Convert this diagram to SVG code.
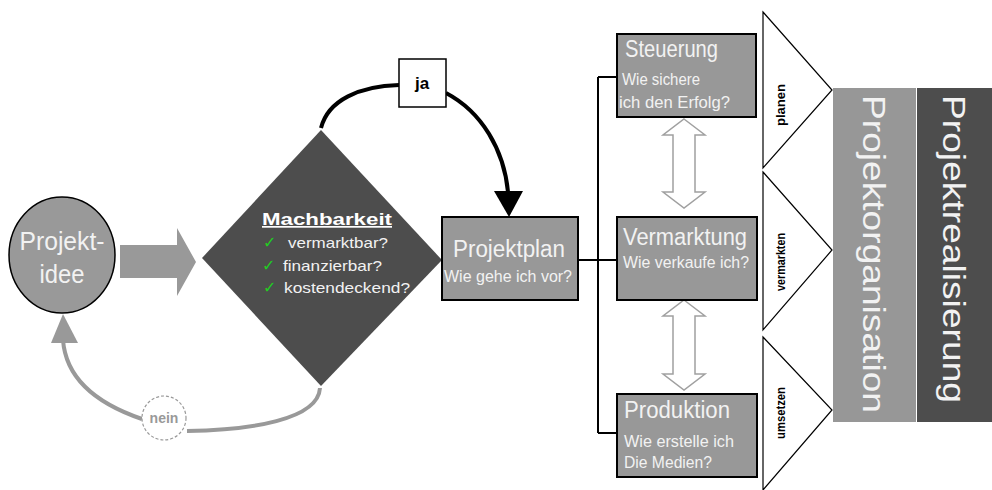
<svg xmlns="http://www.w3.org/2000/svg" width="992" height="490" viewBox="0 0 992 490">
<defs>
<style>
text{font-family:"Liberation Sans",Arial,sans-serif}
.box{fill:#989898;stroke:#000;stroke-width:2}
.lt{fill:#f2f2f2}
.big{font-size:23px}
.sm{font-size:16px}
.con{stroke:#000;stroke-width:2;fill:none}
.tri{fill:#fff;stroke:#000;stroke-width:1.2}
.lbl{font-size:12px;fill:#000;font-weight:bold}
.dbl{fill:#fff;stroke:#a0a0a0;stroke-width:1.5}
.chk{font-family:"DejaVu Sans",sans-serif;font-size:16px;font-weight:bold;fill:#22cc22}
</style>
</defs>
<rect width="992" height="490" fill="#fff"/>

<g id="connectors">
<line class="con" x1="598" y1="77" x2="598" y2="433"/>
<line class="con" x1="598" y1="77" x2="617" y2="77"/>
<line class="con" x1="578" y1="260" x2="617" y2="260"/>
<line class="con" x1="598" y1="433" x2="617" y2="433"/>
<path d="M321 128 C328 100 360 86 399 85" stroke="#000" stroke-width="4" fill="none"/>
<path d="M446 93 C482 112 504 150 508 192" stroke="#000" stroke-width="4" fill="none"/>
<polygon points="494,191 523,191 509,217" fill="#000"/>
<path d="M320 388 C318 420 250 430 187 431" stroke="#999" stroke-width="4" fill="none"/>
<path d="M142 419 C98 404 66 380 63 340" stroke="#999" stroke-width="4" fill="none"/>
<polygon points="51,343 78,343 63,314" fill="#999"/>
<polygon points="120,245 177,245 177,228 196,262 177,296 177,278 120,278" fill="#999"/>
<path class="dbl" d="M684 119 L705 135 L695 135 L695 192 L705 192 L684 208 L663 192 L673 192 L673 135 L663 135 Z"/>
<path class="dbl" d="M684 300 L705 316 L695 316 L695 374 L705 374 L684 390 L663 374 L673 374 L673 316 L663 316 Z"/>
</g>

<g id="idee">
<ellipse cx="62" cy="255" rx="53" ry="58" fill="#999" stroke="#000" stroke-width="1.5"/>
<text class="lt" x="62" y="250" font-size="25" text-anchor="middle" textLength="85" lengthAdjust="spacingAndGlyphs">Projekt-</text>
<text class="lt" x="62" y="283" font-size="25" text-anchor="middle" textLength="45" lengthAdjust="spacingAndGlyphs">idee</text>
</g>

<g id="machbarkeit">
<polygon points="321,130 442,260 321,386 202,258" fill="#4d4d4d"/>
<text x="262" y="225" font-size="17" font-weight="bold" fill="#fff" text-decoration="underline" textLength="130" lengthAdjust="spacingAndGlyphs">Machbarkeit</text>
<text class="chk" x="263" y="248">✓</text>
<text class="chk" x="262" y="271">✓</text>
<text class="chk" x="263" y="293">✓</text>
<text class="lt" x="288" y="248" font-size="15" textLength="100" lengthAdjust="spacingAndGlyphs">vermarktbar?</text>
<text class="lt" x="283" y="271" font-size="15" textLength="99" lengthAdjust="spacingAndGlyphs">finanzierbar?</text>
<text class="lt" x="284" y="293" font-size="15" textLength="126" lengthAdjust="spacingAndGlyphs">kostendeckend?</text>
</g>

<g id="ja">
<rect x="399" y="59" width="47" height="48" fill="#fff" stroke="#000" stroke-width="1.5"/>
<text x="422" y="89" font-size="17" font-weight="bold" text-anchor="middle" fill="#000">ja</text>
</g>

<g id="nein">
<circle cx="164" cy="418" r="22" fill="#fff" stroke="#999" stroke-width="1.2" stroke-dasharray="3,2"/>
<text x="164" y="423" font-size="14" font-weight="bold" text-anchor="middle" fill="#999">nein</text>
</g>

<g id="projektplan">
<rect class="box" x="442" y="217" width="136" height="83"/>
<text class="lt big" x="453" y="257" textLength="112" lengthAdjust="spacingAndGlyphs">Projektplan</text>
<text class="lt sm" x="444" y="282" textLength="128" lengthAdjust="spacingAndGlyphs">Wie gehe ich vor?</text>
</g>

<g id="steuerung">
<rect class="box" x="617" y="34" width="139" height="83"/>
<text class="lt big" x="625" y="57" textLength="93" lengthAdjust="spacingAndGlyphs">Steuerung</text>
<text class="lt sm" x="622" y="85" textLength="78" lengthAdjust="spacingAndGlyphs">Wie sichere</text>
<text class="lt sm" x="619" y="108" textLength="111" lengthAdjust="spacingAndGlyphs">ich den Erfolg?</text>
</g>

<g id="vermarktung">
<rect class="box" x="617" y="217" width="140" height="83"/>
<text class="lt big" x="623" y="245" textLength="124" lengthAdjust="spacingAndGlyphs">Vermarktung</text>
<text class="lt sm" x="623" y="268" textLength="126" lengthAdjust="spacingAndGlyphs">Wie verkaufe ich?</text>
</g>

<g id="produktion">
<rect class="box" x="617" y="394" width="140" height="83"/>
<text class="lt big" x="624" y="418" textLength="106" lengthAdjust="spacingAndGlyphs">Produktion</text>
<text class="lt sm" x="624" y="447" textLength="110" lengthAdjust="spacingAndGlyphs">Wie erstelle ich</text>
<text class="lt sm" x="624" y="468" textLength="88" lengthAdjust="spacingAndGlyphs">Die Medien?</text>
</g>

<g id="planen">
<polygon class="tri" points="763,12 832,90 763,168"/>
<text class="lbl" transform="translate(785,105) rotate(-90)" text-anchor="middle" textLength="42" lengthAdjust="spacingAndGlyphs">planen</text>
</g>
<g id="vermarkten">
<polygon class="tri" points="763,172 832,250 763,330"/>
<text class="lbl" transform="translate(785,262) rotate(-90)" text-anchor="middle" textLength="58" lengthAdjust="spacingAndGlyphs">vermarkten</text>
</g>
<g id="umsetzen">
<polygon class="tri" points="763,337 832,410 763,490"/>
<text class="lbl" transform="translate(785,413) rotate(-90)" text-anchor="middle" textLength="52" lengthAdjust="spacingAndGlyphs">umsetzen</text>
</g>

<g id="projektorganisation">
<rect x="833" y="88" width="83" height="334" fill="#979797"/>
<text class="lt" transform="translate(863,254) rotate(90)" font-size="32" text-anchor="middle" textLength="318" lengthAdjust="spacingAndGlyphs">Projektorganisation</text>
</g>
<g id="projektrealisierung">
<rect x="917" y="88" width="75" height="334" fill="#4d4d4d"/>
<text class="lt" transform="translate(943,249) rotate(90)" font-size="32" text-anchor="middle" textLength="308" lengthAdjust="spacingAndGlyphs">Projektrealisierung</text>
</g>
</svg>
